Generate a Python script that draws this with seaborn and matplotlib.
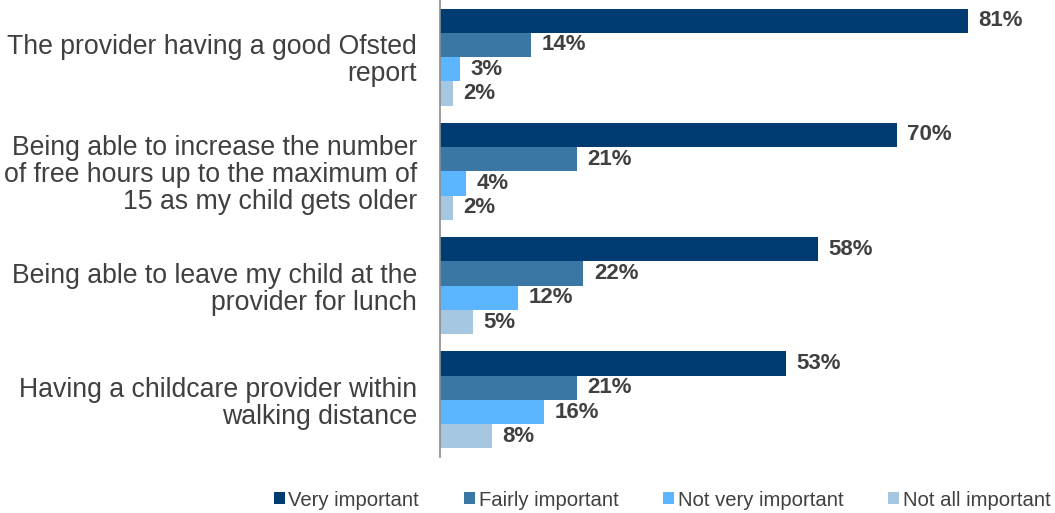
import matplotlib
matplotlib.use("Agg")
import matplotlib.pyplot as plt
from matplotlib.patches import Patch
import seaborn as sns
import pandas as pd

categories = [
    "The provider having a good Ofsted\nreport",
    "Being able to increase the number\nof free hours up to the maximum of\n15 as my child gets older",
    "Being able to leave my child at the\nprovider for lunch",
    "Having a childcare provider within\nwalking distance",
]
series = ["Very important", "Fairly important", "Not very important", "Not all important"]
very_important = [81, 70, 58, 53]
fairly_important = [14, 21, 22, 21]
not_very_important = [3, 4, 12, 16]
not_all_important = [2, 2, 5, 8]
colors = ["#003b71", "#3b77a5", "#5cb6ff", "#a5c7e1"]

values = [very_important, fairly_important, not_very_important, not_all_important]
rows = []
for s, vals in zip(series, values):
    for c, v in zip(categories, vals):
        rows.append({"category": c, "series": s, "value": v})
df = pd.DataFrame(rows)

sns.set_style("white")
plt.rcParams["font.family"] = ["Liberation Sans", "DejaVu Sans"]
text_color = "#404040"

fig = plt.figure(figsize=(10.55, 5.13), dpi=100)
ax = fig.add_axes([440 / 1055, 1 - 457 / 513, (1055 - 440) / 1055, 457 / 513])

sns.barplot(data=df, y="category", x="value", hue="series", order=categories,
            hue_order=series, palette=colors, orient="h", width=0.85,
            saturation=1, edgecolor="none", linewidth=0, legend=False, ax=ax)

for container in ax.containers:
    ax.bar_label(container, labels=[f"{int(round(b.get_width()))}%" for b in container],
                 padding=7.5, fontsize=16, fontweight="bold", color=text_color)

ax.set_xlim(0, 94.3)
ax.set_ylim(3.5, -0.5)
ax.set_xlabel("")
ax.set_ylabel("")
ax.set_xticks([])
ax.tick_params(axis="y", length=0, pad=16.5, labelsize=19.2, labelcolor=text_color)
for lbl in ax.get_yticklabels():
    lbl.set_horizontalalignment("right")
    lbl.set_multialignment("right")
    lbl.set_linespacing(1.06)
for side in ["top", "right", "bottom"]:
    ax.spines[side].set_visible(False)
ax.spines["left"].set_color("#8c8c8c")
ax.spines["left"].set_linewidth(1.2)

handles = [Patch(facecolor=c, edgecolor="none") for c in colors]
fig.legend(handles, series, loc="center", bbox_to_anchor=(662 / 1055, 1 - 500 / 513),
           ncol=4, frameon=False, handlelength=0.55, handleheight=0.55,
           handletextpad=0.18, columnspacing=2.2, labelcolor=text_color,
           prop={"family": ["Liberation Sans", "DejaVu Sans"], "size": 14.6})

fig.savefig("out.png", dpi=100)
